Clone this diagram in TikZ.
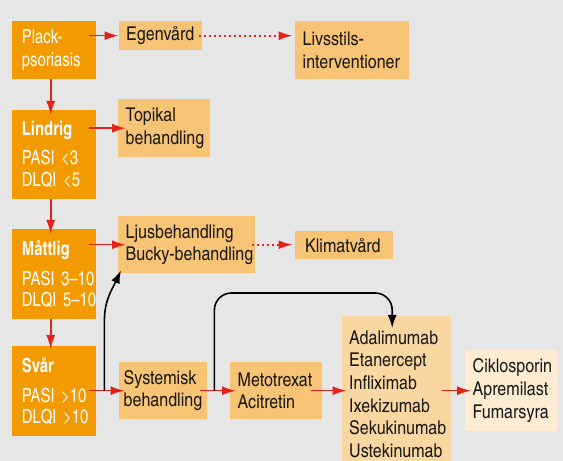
\documentclass[tikz,border=0pt]{standalone}
\usepackage{fontspec}
\setmainfont{texgyreheroscn}[Extension=.otf,UprightFont=*-regular,BoldFont=*-bold,FakeStretch=1.03]
\newfontfamily\nivafont{texgyreheroscn}[Extension=.otf,UprightFont=*-regular,BoldFont=*-bold,FakeStretch=0.93,WordSpace=0.5]
\usetikzlibrary{arrows.meta,calc}

\definecolor{morkorange}{HTML}{F29A00}
\definecolor{ljusorange}{HTML}{F7C375}
\definecolor{blekorange}{HTML}{FAD6A0}
\definecolor{svagorange}{HTML}{FDEBD2}
\definecolor{pilrod}{HTML}{E2231A}
\definecolor{bakgrund}{HTML}{E6E6E6}

\tikzset{
  ruta/.style={anchor=north west,inner ysep=0pt,align=left,text=black!90,font=\fontsize{19}{22.7}\selectfont},
  niva/.style={ruta,fill=morkorange,text=white,inner xsep=9.7pt,text width=64.6pt,font=\nivafont\fontsize{19.5}{21.7}\selectfont},
  atgard/.style={ruta,fill=ljusorange,inner xsep=7.5pt},
  pil/.style={-{Latex[length=14pt,width=9pt]},pilrod,line width=1.6pt,shorten <=-7pt,shorten >=-6pt},
  prickpil/.style={-{Latex[length=14pt,width=9pt]},pilrod,line width=1.8pt,dash pattern=on 1.8pt off 3.2pt,shorten <=-3pt,shorten >=2.5pt},
  svartpil/.style={-{Latex[length=13pt,width=9pt]},black,line width=1.6pt}
}

\begin{document}
\begin{tikzpicture}[x=1pt,y=1pt]

\useasboundingbox (0,0) rectangle (563,461);
\fill[bakgrund] (0,0) rectangle (563,461);

% Nodes
\node[niva,minimum height=58pt] (plack) at (12,440) {Plack-\\[1.7pt]psoriasis};
\node[niva,minimum height=89pt] (lindrig) at (12,351) {\textbf{Lindrig}\\[7.5pt]\mbox{PASI <3}\\\mbox{DLQI <5}};
\node[niva,minimum height=90pt] (mattlig) at (12,232) {\textbf{Måttlig}\\[8pt]\mbox{PASI 3–10}\\\mbox{DLQI 5–10}};
\node[niva,minimum height=90pt] (svar) at (12,115) {\textbf{Svår}\\[8pt]\mbox{PASI >10}\\\mbox{DLQI >10}};

\node[atgard,text width=68.5pt,minimum height=29pt] (egen) at (118.5,440) {Egenvård};
\node[atgard,text width=98.5pt,minimum height=58pt] (livs) at (295,440) {Livsstils-\\interventioner};
\node[atgard,text width=77pt,minimum height=58pt] (topikal) at (118,362) {Topikal\\behandling};
\node[atgard,text width=122pt,minimum height=57pt] (ljus) at (118,245) {Ljusbehandling\\\mbox{Bucky-behandling}};
\node[atgard,minimum height=28pt,inner xsep=10pt,text width=78pt] (klimat) at (295,230) {Klimatvård};
\node[atgard,minimum height=57pt,inner xsep=5pt,text width=78.5pt] (system) at (118.5,99) {Systemisk\\behandling};
\node[atgard,text width=77pt,minimum height=57pt] (meto) at (230,99) {Metotrexat\\Acitretin};
\node[atgard,fill=blekorange,text width=94pt,minimum height=156pt] (bio) at (341.5,145) {Adalimumab\\Etanercept\\Infliximab\\Ixekizumab\\Sekukinumab\\Ustekinumab};
\node[atgard,fill=svagorange,text width=76.5pt,minimum height=81pt] (cikl) at (465,111) {Ciklosporin\\Apremilast\\Fumarsyra};

% arrows
\draw[pil,shorten <=0pt,shorten >=-5pt] ([xshift=-3.5pt]plack.south) -- ([xshift=-3.5pt]lindrig.north);
\draw[pil,shorten <=0pt,shorten >=-5pt] ([xshift=-3.5pt]lindrig.south) -- ([xshift=-3.5pt]mattlig.north);
\draw[pil,shorten <=0pt,shorten >=-3pt] ([xshift=-3.5pt]mattlig.south) -- ([xshift=-3.5pt]svar.north);

\draw[pil,shorten >=0pt] (plack.east |- egen.west) -- (egen.west);
\draw[pil,shorten >=-8pt] (lindrig.east |- topikal.west) -- (topikal.west);
\draw[pil,shorten >=-8pt] (mattlig.east |- ljus.west) -- (ljus.west);
\draw[pil] (svar.east |- system.west) -- (system.west);
\draw[pil] (system.east) -- (meto.west);
\draw[pil,shorten <=-11pt,shorten >=-5pt] (meto.east) -- (meto.east -| bio.west);
\draw[pil,shorten <=-9pt] (cikl.west -| bio.east) -- (cikl.west);

\draw[prickpil] (egen.east) -- (egen.east -| livs.west);
\draw[prickpil] (ljus.east) -- (ljus.east -| klimat.west);

\coordinate (gren1) at ([xshift=8pt]svar.east |- system.west);
\coordinate (gren2) at ([xshift=7pt]system.east);
\draw[svartpil] (gren1) -- ++(0,70) to[out=90,in=-115] ([xshift=3pt,yshift=3pt]ljus.south west);
\draw[svartpil,rounded corners=17pt] (gren2) |- ([xshift=-4pt,yshift=23pt]bio.north) -- ([xshift=-4pt,yshift=-12pt]bio.north);

\end{tikzpicture}
\end{document}
